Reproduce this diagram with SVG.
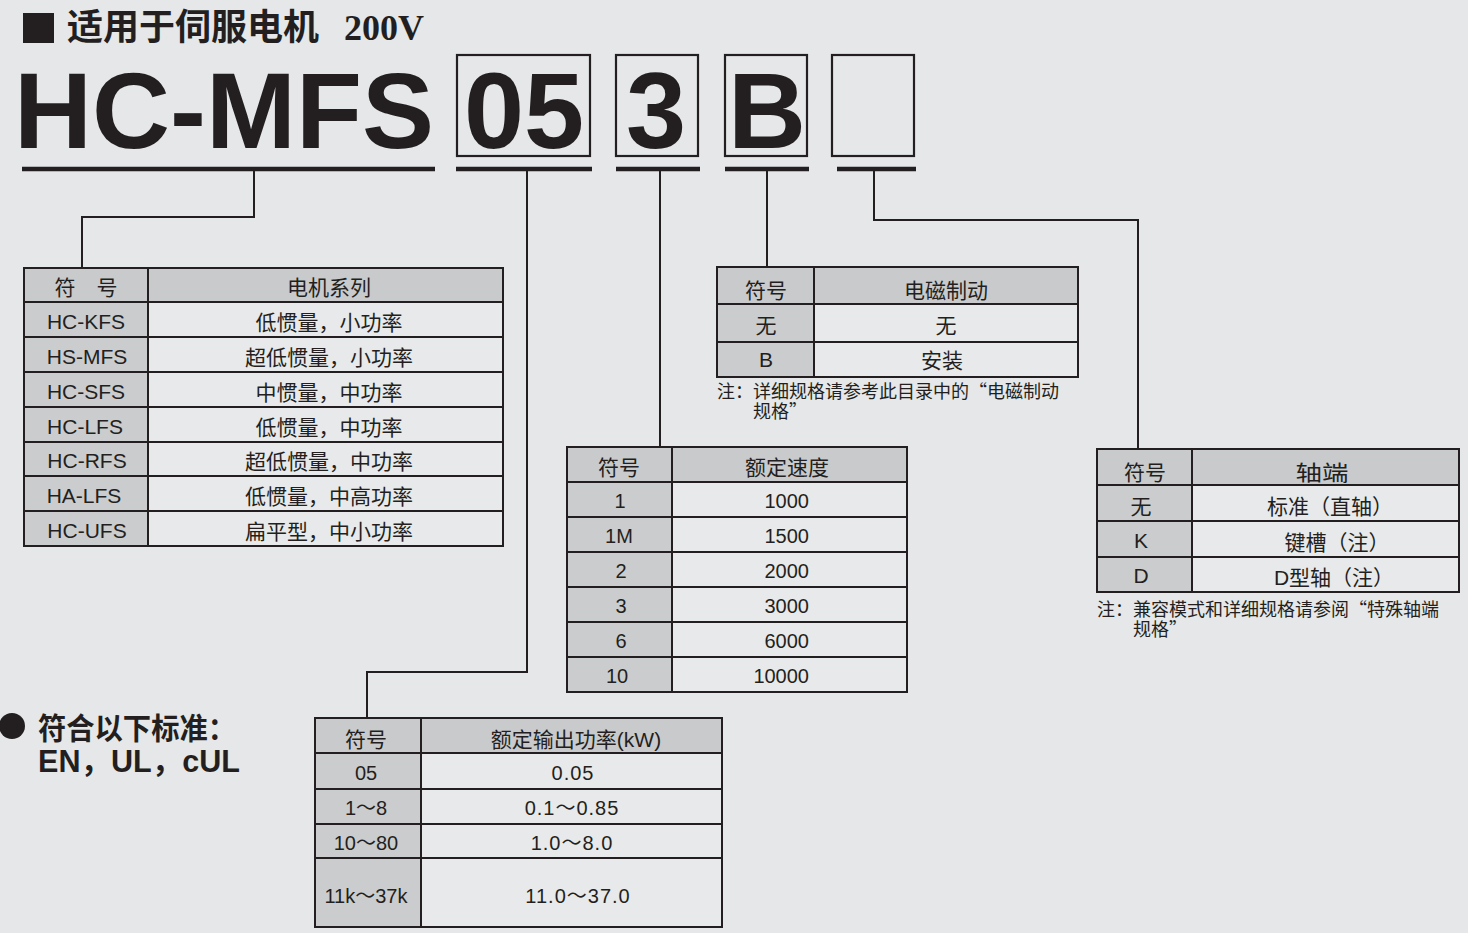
<svg xmlns="http://www.w3.org/2000/svg" width="1468" height="933" viewBox="0 0 1468 933">
<style>
.bg{fill:#e6e7e8}
.t{font-family:"Liberation Sans","Noto Sans CJK SC",sans-serif;fill:#231f20}
.n{font-family:"Noto Sans CJK SC",sans-serif;fill:#231f20}
.c{text-anchor:middle}
.e{text-anchor:end}
.f21{font-size:21px}
.f20{font-size:20px}
.f18{font-size:18px}
.big{font-family:"Liberation Sans",Arial,sans-serif;font-weight:bold;font-size:108px;fill:#231f20}
.hdr{fill:#c9cacc}
.sym{fill:#cbcccd}
.val{fill:#e8e9ea}
.grid{fill:none;stroke:#231f20;stroke-width:2}
.box{fill:none;stroke:#231f20;stroke-width:2.2}
.ul{stroke:#231f20;stroke-width:4.5}
.con{fill:none;stroke:#231f20;stroke-width:2}
</style>
<rect class="bg" x="0" y="0" width="1468" height="933"/>

<g id="title">
<rect x="23" y="13" width="31" height="30" fill="#231f20"/>
<text x="67" y="40" font-family="'Noto Sans CJK SC',sans-serif" font-weight="bold" font-size="36" fill="#231f20">适用于伺服电机</text>
<text x="344" y="40" font-family="'Liberation Serif',serif" font-weight="bold" font-size="36" fill="#231f20">200V</text>
</g>

<g id="code-series">
<text class="big" x="14" y="148">HC-MFS</text>
<line class="ul" x1="22" y1="169" x2="435" y2="169"/>
</g>
<g id="code-power">
<rect class="box" x="457" y="55" width="133" height="101"/>
<text class="big c" x="524" y="148">05</text>
<line class="ul" x1="456" y1="169" x2="592" y2="169"/>
</g>
<g id="code-speed">
<rect class="box" x="616" y="55" width="82" height="101"/>
<text class="big c" x="656" y="148">3</text>
<line class="ul" x1="616" y1="169" x2="700" y2="169"/>
</g>
<g id="code-brake">
<rect class="box" x="725" y="55" width="82" height="101"/>
<text class="big c" x="767" y="148">B</text>
<line class="ul" x1="725" y1="169" x2="809" y2="169"/>
</g>
<g id="code-shaft">
<rect class="box" x="832" y="55" width="82" height="101"/>
<line class="ul" x1="837" y1="169" x2="916" y2="169"/>
</g>

<g id="connectors">
<path class="con" d="M254 169 V217 H82 V268"/>
<path class="con" d="M527 169 V672 H367 V718"/>
<path class="con" d="M660 169 V447"/>
<path class="con" d="M767 169 V268"/>
<path class="con" d="M874 169 V220 H1138 V449"/>
</g>

<g id="table-series">
<rect class="val" x="24" y="268" width="479" height="278"/>
<rect class="hdr" x="24" y="268" width="479" height="34"/>
<rect class="sym" x="24" y="302" width="124" height="244"/>
<rect class="grid" x="24" y="268" width="479" height="278"/>
<path class="grid" d="M148 268 V546 M24 302 H503 M24 337 H503 M24 372 H503 M24 407 H503 M24 442 H503 M24 476 H503 M24 511 H503"/>
<g class="t f21 c">
<text x="86" y="295">符　号</text><text x="329" y="295">电机系列</text>
<text x="86" y="329">HC-KFS</text><text x="329" y="330">低惯量，小功率</text>
<text x="87" y="364">HS-MFS</text><text x="329" y="365">超低惯量，小功率</text>
<text x="86" y="399">HC-SFS</text><text x="329" y="400">中惯量，中功率</text>
<text x="85" y="434">HC-LFS</text><text x="329" y="435">低惯量，中功率</text>
<text x="87" y="468">HC-RFS</text><text x="329" y="469">超低惯量，中功率</text>
<text x="84" y="503">HA-LFS</text><text x="329" y="504">低惯量，中高功率</text>
<text x="87" y="538">HC-UFS</text><text x="329" y="539">扁平型，中小功率</text>
</g>
</g>

<g id="table-brake">
<rect class="val" x="717" y="267" width="361" height="110"/>
<rect class="hdr" x="717" y="267" width="361" height="37"/>
<rect class="sym" x="717" y="304" width="97" height="73"/>
<rect class="grid" x="717" y="267" width="361" height="110"/>
<path class="grid" d="M814 267 V377 M717 304 H1078 M717 342 H1078"/>
<g class="t f21 c">
<text x="766" y="298">符号</text><text x="946" y="298">电磁制动</text>
<text x="766" y="333">无</text><text x="946" y="333">无</text>
<text x="766" y="367">B</text><text x="942" y="368">安装</text>
</g>
<g class="n f18">
<text x="717" y="398">注：详细规格请参考此目录中的“电磁制动</text>
<text x="753" y="418">规格”</text>
</g>
</g>

<g id="table-speed">
<rect class="val" x="567" y="447" width="340" height="245"/>
<rect class="hdr" x="567" y="447" width="340" height="35"/>
<rect class="sym" x="567" y="482" width="105" height="210"/>
<rect class="grid" x="567" y="447" width="340" height="245"/>
<path class="grid" d="M672 447 V692 M567 482 H907 M567 517 H907 M567 552 H907 M567 587 H907 M567 622 H907 M567 657 H907"/>
<g class="t f20">
<text class="c f21" x="619" y="475">符号</text><text class="c f21" x="787" y="475">额定速度</text>
<text class="c" x="620" y="508">1</text><text class="e" x="809" y="508">1000</text>
<text class="c" x="619" y="543">1M</text><text class="e" x="809" y="543">1500</text>
<text class="c" x="621" y="578">2</text><text class="e" x="809" y="578">2000</text>
<text class="c" x="621" y="613">3</text><text class="e" x="809" y="613">3000</text>
<text class="c" x="621" y="648">6</text><text class="e" x="809" y="648">6000</text>
<text class="c" x="617" y="683">10</text><text class="e" x="809" y="683">10000</text>
</g>
</g>

<g id="table-shaft">
<rect class="val" x="1097" y="449" width="362" height="143"/>
<rect class="hdr" x="1097" y="449" width="362" height="36"/>
<rect class="sym" x="1097" y="485" width="95" height="107"/>
<rect class="grid" x="1097" y="449" width="362" height="143"/>
<path class="grid" d="M1192 449 V592 M1097 485 H1459 M1097 521 H1459 M1097 557 H1459"/>
<g class="t f21 c">
<text x="1145" y="480">符号</text><text x="1322" y="480" textLength="53" lengthAdjust="spacingAndGlyphs">轴端</text>
<text x="1141" y="514">无</text><text x="1330" y="514">标准（直轴）</text>
<text x="1141" y="548">K</text><text x="1337" y="550">键槽（注）</text>
<text x="1141" y="583">D</text><text x="1334" y="585">D型轴（注）</text>
</g>
<g class="n f18">
<text x="1097" y="616">注：兼容模式和详细规格请参阅“特殊轴端</text>
<text x="1133" y="636">规格”</text>
</g>
</g>

<g id="table-power">
<rect class="val" x="315" y="718" width="407" height="209"/>
<rect class="hdr" x="315" y="718" width="407" height="35"/>
<rect class="sym" x="315" y="753" width="106" height="174"/>
<rect class="grid" x="315" y="718" width="407" height="209"/>
<path class="grid" d="M421 718 V927 M315 753 H722 M315 789 H722 M315 824 H722 M315 858 H722"/>
<g class="t f20 c">
<text class="f21" x="366" y="747">符号</text><text class="f21" x="576" y="747">额定输出功率(kW)</text>
<text x="366" y="780">05</text><text x="573" y="780" letter-spacing="1">0.05</text>
<text x="366" y="815">1～8</text><text x="572" y="815" letter-spacing="1">0.1～0.85</text>
<text x="366" y="850">10～80</text><text x="572" y="850" letter-spacing="1">1.0～8.0</text>
<text x="366" y="903">11k～37k</text><text x="578" y="903" letter-spacing="1">11.0～37.0</text>
</g>
</g>

<g id="standards">
<circle cx="12" cy="726" r="13" fill="#231f20"/>
<text class="t" x="38" y="739" font-size="30" font-weight="bold" textLength="198" lengthAdjust="spacingAndGlyphs">符合以下标准：</text>
<text class="t" x="38" y="772" font-size="31" font-weight="bold" textLength="202" lengthAdjust="spacingAndGlyphs">EN，UL，cUL</text>
</g>
</svg>
